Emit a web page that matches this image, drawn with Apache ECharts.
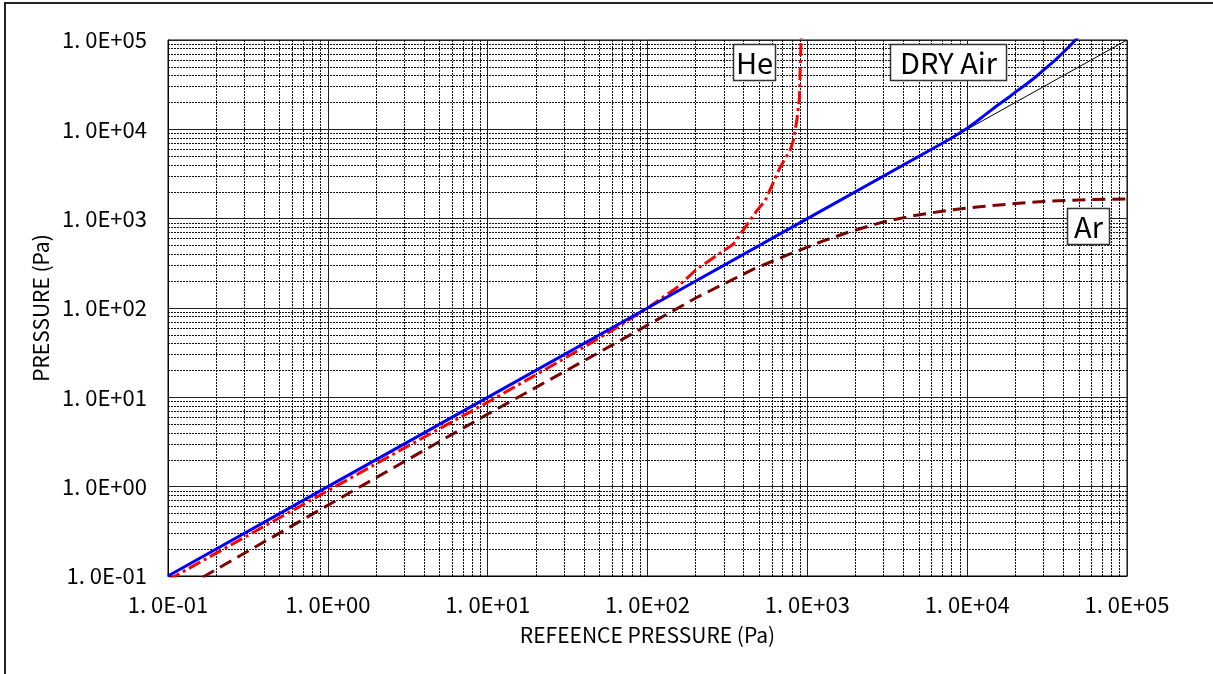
<!DOCTYPE html>
<html>
<head>
<meta charset="utf-8">
<script src="https://cdn.jsdelivr.net/npm/echarts@6/dist/echarts.min.js"></script>
<style>html,body{margin:0;padding:0;background:#fff;}#c{width:1213px;height:674px;}</style>
</head>
<body>
<div id="c"></div>
<script>
// Reference (ideal) line y = x
const refX = [0.1, 100000];
const refY = [0.1, 100000];
// DRY Air
const airX = [0.1, 1, 10, 100, 1000, 8000, 10000, 11500, 13000, 15500, 18600, 21000, 24000, 27000, 30000, 35000, 40000, 45000, 50000];
const airY = [0.1, 1, 10, 100, 1000, 8000, 10300, 12300, 14600, 18600, 23500, 27800, 33000, 39000, 46000, 58000, 73000, 90000, 110000];
// He
const heX = [0.1, 0.3, 1, 3, 10, 30, 60, 100, 150, 203, 270, 345, 420, 483, 545, 610, 676, 780, 818, 860, 893, 902, 915];
const heY = [0.09, 0.27, 0.9, 2.7, 8.8, 27, 56, 100, 165, 272, 385, 520, 860, 1230, 1590, 2500, 3770, 5810, 7520, 12600, 23100, 46000, 110000];
// Ar
const arX = [0.1, 0.17, 1, 9.4, 50, 203, 460, 745, 1000, 1260, 1850, 2990, 4500, 7110, 11500, 18600, 30000, 60000, 100000];
const arY = [0.058, 0.1, 0.62, 6.1, 32, 131, 272, 390, 480, 565, 715, 920, 1070, 1220, 1350, 1460, 1560, 1640, 1665];
// axis range / ticks
const axisMin = 0.1, axisMax = 100000;
const decades = [-1, 0, 1, 2, 3, 4];
const minorMults = [2, 3, 4, 5, 6, 7, 8, 9];

const FONT = '"Noto Sans CJK JP", "Noto Sans", sans-serif';
const zip = (xs, ys) => xs.map((x, i) => [x, ys[i]]);
const minorVals = [];
decades.forEach(d => minorMults.forEach(m => minorVals.push(m * Math.pow(10, d))));

function fmt(v) {
  const e = Math.round(Math.log10(v));
  const s = e < 0 ? '-' : '+';
  const a = Math.abs(e);
  return '1. 0E' + s + (a < 10 ? '0' : '') + a;
}

const chart = echarts.init(document.getElementById('c'), null, {renderer: 'canvas'});
const axisCommon = {
  type: 'log', logBase: 10, min: axisMin, max: axisMax, splitNumber: 6,
  axisLine: {show: true, onZero: false, lineStyle: {color: '#000', width: 1}},
  axisTick: {show: false},
  axisLabel: {color: '#000', fontFamily: FONT, fontSize: 22, formatter: fmt},
  splitLine: {show: true, lineStyle: {color: '#222', width: 1}},
  nameLocation: 'middle',
  nameTextStyle: {color: '#000', fontFamily: FONT, fontSize: 21}
};
chart.setOption({
  animation: false,
  backgroundColor: '#fff',
  grid: {left: 168, right: 86, top: 40, bottom: 98, show: true, borderColor: '#000', borderWidth: 1, containLabel: false},
  xAxis: Object.assign({}, axisCommon, {name: 'REFEENCE PRESSURE (Pa)', nameGap: 49, axisLabel: Object.assign({}, axisCommon.axisLabel, {margin: 18})}),
  yAxis: Object.assign({}, axisCommon, {name: 'PRESSURE (Pa)', nameGap: 114, axisLabel: Object.assign({}, axisCommon.axisLabel, {margin: 21})}),
  graphic: [
    {type: 'rect', shape: {x: 5, y: 3, width: 1400, height: 900}, style: {fill: 'none', stroke: '#222', lineWidth: 2}, z: 100},
    {type: 'rect', shape: {x: 733.5, y: 44.5, width: 42, height: 36}, style: {fill: '#fff', stroke: '#333', lineWidth: 1.5}, z: 100},
    {type: 'text', x: 754.5, y: 62.5, style: {text: 'He', font: '29px ' + FONT, fill: '#000', align: 'center', verticalAlign: 'middle'}, z: 101},
    {type: 'rect', shape: {x: 890.5, y: 44.5, width: 116, height: 36}, style: {fill: '#fff', stroke: '#333', lineWidth: 1.5}, z: 100},
    {type: 'text', x: 948.5, y: 62.5, style: {text: 'DRY Air', font: '29px ' + FONT, fill: '#000', align: 'center', verticalAlign: 'middle'}, z: 101},
    {type: 'rect', shape: {x: 1067.5, y: 208.5, width: 42, height: 36}, style: {fill: '#fff', stroke: '#333', lineWidth: 1.5}, z: 100},
    {type: 'text', x: 1088.5, y: 226.5, style: {text: 'Ar', font: '29px ' + FONT, fill: '#000', align: 'center', verticalAlign: 'middle'}, z: 101}
  ],
  series: [
    {
      type: 'line', data: [], z: 1, silent: true,
      markLine: {
        silent: true, symbol: ['none', 'none'], label: {show: false}, animation: false,
        lineStyle: {color: '#111', width: 1, type: [2, 1]},
        emphasis: {disabled: true},
        data: minorVals.map(v => ({xAxis: v})).concat(minorVals.map(v => ({yAxis: v})))
      }
    },
    {type: 'line', name: 'ref', data: zip(refX, refY), showSymbol: false, symbol: 'none', z: 3,
     lineStyle: {color: '#000', width: 1}},
    {type: 'line', name: 'Ar', data: zip(arX, arY), showSymbol: false, symbol: 'none', z: 4,
     lineStyle: {color: '#800000', width: 3, type: [13, 7]}},
    {type: 'line', name: 'He', data: zip(heX, heY), showSymbol: false, symbol: 'none', z: 5,
     lineStyle: {color: '#ff0000', width: 3, type: [13, 4, 3, 4]}},
    {type: 'line', name: 'DRY Air', data: zip(airX, airY), showSymbol: false, symbol: 'none', z: 6,
     lineStyle: {color: '#0000ff', width: 3}}
  ]
});
</script>
</body>
</html>
